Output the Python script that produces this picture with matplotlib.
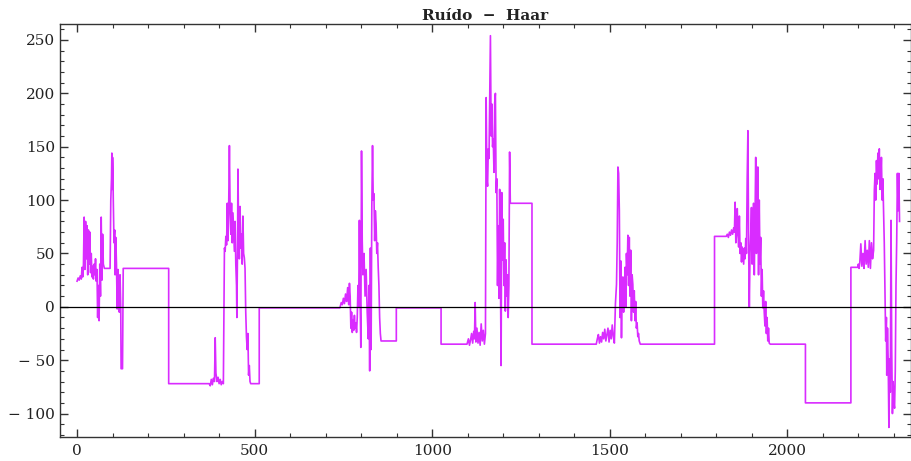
import numpy as np
import matplotlib.pyplot as plt
from matplotlib.ticker import MultipleLocator, FuncFormatter


# noisy bursts (sample index, value)
b1a_x = [0, 3, 6, 9, 12, 14, 16, 18, 20, 22, 24, 26, 28, 30, 32, 34, 36, 38, 40, 42,
         44, 46, 48, 50, 52, 54, 56, 58, 60, 62, 64, 66, 68, 70, 72, 74, 77]
b1a_y = [24, 27, 25, 29, 26, 37, 28, 40, 84, 35, 80, 45, 76, 30, 72, 40, 70, 32, 50, 28,
         38, 26, 40, 30, 45, 24, 35, -10, 20, -13, 40, 10, 84, 25, 68, 40, 36]

b1b_x = [93, 95, 97, 98, 99, 100, 101, 102, 104, 106, 107, 109, 111, 113, 115, 117,
         119, 121, 123, 124, 126, 128, 130]
b1b_y = [36, 100, 120, 144, 110, 140, 128, 100, 60, 72, 30, 65, 40, -2, 35, 18,
         -5, 30, 0, -58, -58, -58, 36]

b2_x = [372, 375, 378, 381, 384, 387, 389, 391, 394, 397, 400, 403, 406, 409, 412, 415,
        417, 419, 421, 423, 425, 427, 429, 431, 433, 435, 437, 439, 441, 443, 445, 447,
        449, 450, 452, 453, 455, 457, 459, 461, 463, 465, 467, 469, 471, 473, 475, 477,
        479, 481, 483, 485, 487, 489]
b2_y = [-72, -74, -68, -73, -67, -70, -29, -62, -70, -66, -72, -68, -73, -70, -72, 55,
        52, 66, 58, 97, 62, 95, 151, 90, 68, 97, 60, 88, 70, 52, 80, 40,
        20, -10, 60, 129, 70, 45, 94, 55, 68, 40, 85, 50, 46, 36, -5, -28,
        -40, -25, -64, -55, -70, -72]

b3_x = [740, 744, 747, 750, 753, 756, 759, 762, 765, 767, 769, 771, 773, 775, 777, 779,
        781, 783, 785, 787, 789, 791, 793, 795, 797, 799, 801, 803, 805, 808, 811, 814,
        817, 820, 822, 824, 826, 828, 830, 832, 834, 836, 838, 840, 842, 844, 846, 848,
        850, 852, 854, 856]
b3_y = [-1, 4, 2, 8, 3, 12, 5, 18, 2, 22, 10, -20, -5, -24, -12, -22,
        -8, -20, -15, -24, -10, 20, 0, 81, 10, -38, 146, 62, 30, 50, 10, 35,
        -5, -30, 20, -60, 55, -40, 94, 151, 100, 106, 62, 90, 78, 50, 60, 37,
        20, -10, -25, -32]

b4_x = [1098, 1102, 1105, 1108, 1111, 1114, 1117, 1119, 1121, 1123, 1126, 1129, 1132,
        1135, 1138, 1141, 1144, 1147, 1150, 1152, 1154, 1156, 1158, 1160, 1162, 1164,
        1166, 1168, 1170, 1172, 1174, 1176, 1178, 1180, 1182, 1184, 1186, 1188, 1190,
        1192, 1194, 1196, 1198, 1200, 1202, 1204, 1206, 1208, 1210, 1212, 1214, 1216,
        1218, 1220]
b4_y = [-35, -30, -36, -31, -25, -34, -23, -30, 4, -33, -20, -34, -24,
        -36, -16, -32, -22, -35, -25, 196, 120, 113, 148, 139, 200, 254,
        160, 190, 150, 157, 126, 191, 200, 107, 120, 20, 76, 8, 110,
        40, -55, 107, 44, 82, 20, 60, -4, 44, 10, 30, -10, 20,
        145, 97]

b5_x = [1462, 1465, 1468, 1471, 1474, 1477, 1480, 1483, 1486, 1489, 1492, 1495, 1498,
        1501, 1504, 1507, 1510, 1513, 1516, 1519, 1521, 1523, 1525, 1527, 1529, 1531,
        1533, 1535, 1537, 1539, 1541, 1543, 1545, 1547, 1549, 1551, 1553, 1555, 1557,
        1559, 1561, 1563, 1565, 1567, 1569, 1571, 1573, 1575, 1577, 1579, 1581, 1583,
        1586]
b5_y = [-35, -30, -26, -34, -28, -33, -24, -30, -21, -32, -26, -20, -33,
        -22, -30, -17, -28, -34, 3, 21, 60, 131, 125, 90, -10, 43,
        -29, 20, 28, -5, 10, 37, 0, 50, 30, 67, 20, 65, 10,
        53, -13, 30, 21, -5, 15, -13, 5, -20, -15, -28, -25, -32,
        -35]

b6_x = [1828, 1831, 1834, 1837, 1840, 1843, 1846, 1849, 1851, 1853, 1855, 1857, 1859,
        1861, 1863, 1865, 1867, 1869, 1871, 1873, 1875, 1877, 1879, 1881, 1883, 1885,
        1887, 1889, 1891, 1893, 1895, 1897, 1899, 1901, 1903, 1905, 1907, 1909, 1911,
        1913, 1915, 1917, 1919, 1921, 1923, 1925, 1927, 1929, 1931, 1933, 1935, 1937,
        1939, 1941, 1943, 1945, 1947, 1949, 1952]
b6_y = [66, 68, 65, 70, 67, 72, 68, 74, 70, 98, 60, 68, 92,
        70, 56, 85, 50, 60, 42, 56, 48, 40, 55, 45, 64, 50,
        120, 165, 60, 0, 50, 68, 93, 40, 60, 97, 30, 80, 140,
        50, 68, 131, 30, 100, 40, 65, 10, 35, -1, 15, -5, -18,
        5, -25, -10, -32, -20, -34, -35]

b7_x = [2198, 2200, 2202, 2204, 2207, 2210, 2213, 2216, 2219, 2222, 2225, 2228, 2231,
        2234, 2237, 2240, 2243, 2245, 2247, 2249, 2251, 2253, 2255, 2257, 2259, 2261,
        2263, 2265, 2267, 2269, 2271, 2273, 2275, 2277, 2279, 2280, 2282, 2284, 2286,
        2288, 2290, 2292, 2294, 2296, 2298, 2300, 2302, 2304, 2306, 2308, 2310, 2312,
        2314, 2316]
b7_y = [37, 40, 36, 41, 59, 38, 50, 36, 62, 40, 53, 37, 62,
        36, 60, 45, 53, 109, 125, 100, 137, 115, 144, 120, 148, 110,
        119, 140, 100, 120, 91, 60, 12, -32, -10, -64, -20, -50, -113,
        -49, -80, 81, -40, -100, -70, -90, -95, -60, 20, 62, 125, 90,
        125, 80]

# flat (Haar) stretches: start, end, level
flat_start = [77, 130, 258, 489, 513, 856, 899, 1025, 1220, 1281, 1586, 1795, 1952, 2051, 2179]
flat_end = [93, 258, 372, 513, 740, 899, 1025, 1098, 1281, 1462, 1795, 1828, 2051, 2179, 2198]
flat_level = [36, 36, -72, -72, -1, -32, -1, -35, 97, -35, -35, 66, -35, -90, 37]

x_ticks = [0, 500, 1000, 1500, 2000]
y_ticks = [-100, -50, 0, 50, 100, 150, 200, 250]


def flat(i):
    return [flat_start[i], flat_end[i]], [flat_level[i], flat_level[i]]


def build_signal():
    """Chains bursts and flat stretches in the order they appear."""
    bursts = {'b1a': (b1a_x, b1a_y), 'b1b': (b1b_x, b1b_y), 'b2': (b2_x, b2_y),
              'b3': (b3_x, b3_y), 'b4': (b4_x, b4_y), 'b5': (b5_x, b5_y),
              'b6': (b6_x, b6_y), 'b7': (b7_x, b7_y)}
    order = ['b1a', 0, 'b1b', 1, 2, 'b2', 3, 4, 'b3', 5, 6, 7, 'b4', 8, 9, 'b5',
             10, 11, 'b6', 12, 13, 14, 'b7']
    xs, ys = [], []
    for item in order:
        px, py = bursts[item] if isinstance(item, str) else flat(item)
        xs += list(px)
        ys += list(py)
    return np.array(xs), np.array(ys)


def minus_fmt(v, pos):
    if v < 0:
        return '\u2212 %d' % abs(v)
    return '%d' % v


if __name__ == '__main__':
    plt.rcParams['font.family'] = ['DejaVu Serif']

    fig = plt.figure(figsize=(9.12, 4.61), dpi=100)
    ax = fig.add_axes([0.0658, 0.052, 0.933, 0.896])

    x, y = build_signal()
    ax.plot(x, y, color='#d92cff', lw=1.2, zorder=2)
    ax.axhline(0, color='black', lw=0.9, zorder=3)

    ax.set_xlim(-48, 2348)
    ax.set_ylim(-122, 265)

    ax.set_xticks(x_ticks)
    ax.set_yticks(y_ticks)
    ax.xaxis.set_minor_locator(MultipleLocator(100))
    ax.yaxis.set_minor_locator(MultipleLocator(10))
    ax.yaxis.set_major_formatter(FuncFormatter(minus_fmt))

    ax.tick_params(which='both', direction='in', top=True, right=True,
                   color='#333333', labelcolor='#222222', labelsize=11)
    ax.tick_params(which='major', length=6, width=1.0)
    ax.tick_params(which='minor', length=3, width=0.8)
    ax.tick_params(axis='x', pad=5)
    for s in ax.spines.values():
        s.set_color('#333333')
        s.set_linewidth(1.0)

    ax.set_title('Ruído  \u2212  Haar', fontsize=11, fontweight='bold',
                 color='#222222', pad=3)

    fig.savefig('out.png', dpi=100)
